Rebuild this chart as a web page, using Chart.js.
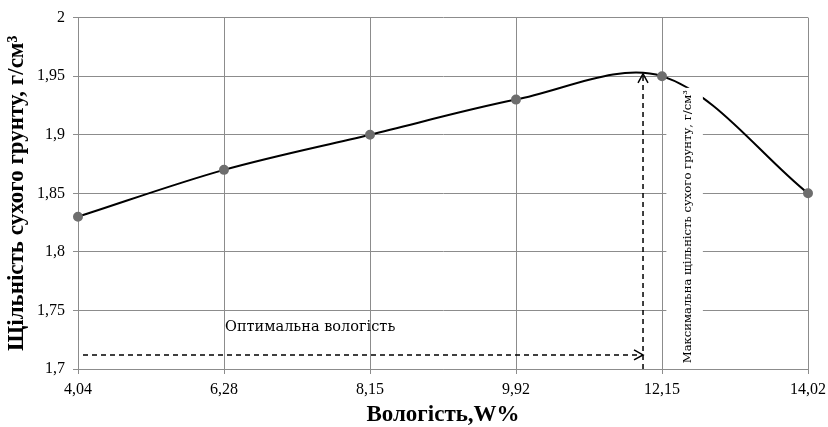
<!DOCTYPE html>
<html>
<head>
<meta charset="utf-8">
<script src="https://cdn.jsdelivr.net/npm/chart.js@4"></script>
<style>
  html, body { margin: 0; padding: 0; background: #fff; }
  #wrap { width: 828px; height: 427px; }
</style>
</head>
<body>
<div id="wrap"><canvas id="chart"></canvas></div>
<script>
const moistureLabels = ['4,04', '6,28', '8,15', '9,92', '12,15', '14,02']
const densityValues = [1.83, 1.87, 1.9, 1.93, 1.95, 1.85]

// optimum (fractional category index, density)
const optimumIndex = 3.87
const optimumDensity = 1.952
const arrowLevel = 1.712

const gridColor = '#8c8c8c'
const serif = '"Liberation Serif", "Times New Roman", serif'

const annotations = {
  id: 'annotations',
  afterDatasetsDraw(chart) {
    const { ctx, scales } = chart
    const x = scales.x
    const y = scales.y
    const ox = x.getPixelForValue(optimumIndex)
    const top = y.getPixelForValue(optimumDensity)
    const lvl = y.getPixelForValue(arrowLevel)

    ctx.save()
    // white box behind the vertical label
    const bx1 = x.getPixelForValue(4.03)
    const bx2 = x.getPixelForValue(4.28)
    const by1 = y.getPixelForValue(1.94)
    const by2 = y.getPixelForValue(1.703)
    ctx.fillStyle = '#fff'
    ctx.fillRect(bx1, by1, bx2 - bx1, by2 - by1)

    ctx.strokeStyle = '#000'
    ctx.lineWidth = 1.5
    ctx.setLineDash([5, 4])
    ctx.beginPath()
    ctx.moveTo(ox, y.bottom)
    ctx.lineTo(ox, top)
    ctx.moveTo(x.left + 5, lvl)
    ctx.lineTo(ox, lvl)
    ctx.stroke()

    ctx.setLineDash([])
    ctx.beginPath()
    ctx.moveTo(ox - 5, top + 9)
    ctx.lineTo(ox, top)
    ctx.lineTo(ox + 5, top + 9)
    ctx.moveTo(ox - 9, lvl - 5)
    ctx.lineTo(ox, lvl)
    ctx.lineTo(ox - 9, lvl + 5)
    ctx.stroke()

    ctx.fillStyle = '#000'
    ctx.font = '14.5px "DejaVu Serif", serif'
    ctx.textAlign = 'center'
    ctx.textBaseline = 'middle'
    ctx.fillText('Оптимальна вологість', x.getPixelForValue(1.59), y.getPixelForValue(1.7357))

    ctx.translate(x.getPixelForValue(4.18), (by1 + by2) / 2)
    ctx.rotate(-Math.PI / 2)
    ctx.font = '11.6px "DejaVu Serif", serif'
    ctx.fillText('Максимальна щільність сухого грунту, г/см³', 0, 0)
    ctx.restore()
  },
}

new Chart(document.getElementById('chart'), {
  type: 'line',
  data: {
    labels: moistureLabels,
    datasets: [
      {
        data: densityValues,
        borderColor: '#000',
        borderWidth: 2,
        tension: 0.33,
        pointRadius: 4,
        pointBackgroundColor: '#6e6e6e',
        pointBorderColor: '#6e6e6e',
      },
    ],
  },
  options: {
    responsive: true,
    maintainAspectRatio: false,
    animation: false,
    layout: { padding: { top: 16, right: 20, left: 0, bottom: 0 } },
    plugins: {
      legend: { display: false },
      tooltip: { enabled: false },
    },
    scales: {
      x: {
        offset: false,
        afterFit: (s) => {
          s.height = 58
          s.paddingLeft = 0
          s.paddingRight = 0
        },
        grid: { color: gridColor, tickLength: 5 },
        border: { color: gridColor },
        ticks: { color: '#000', font: { family: serif, size: 16 }, padding: 6, maxRotation: 0 },
        title: {
          display: true,
          text: 'Вологість,W%',
          color: '#000',
          font: { family: serif, size: 23, weight: 'bold', lineHeight: 1 },
          padding: { top: 0, bottom: 0 },
        },
      },
      y: {
        min: 1.7,
        max: 2,
        afterFit: (s) => { s.width = 78 },
        grid: { color: gridColor, tickLength: 5 },
        border: { color: gridColor },
        ticks: {
          stepSize: 0.05,
          color: '#000',
          font: { family: serif, size: 16 },
          padding: 8,
          callback: (v) => String(Math.round(v * 100) / 100).replace('.', ','),
        },
        title: {
          display: true,
          text: 'Щільність сухого грунту, г/см³',
          color: '#000',
          font: { family: serif, size: 23, weight: 'bold', lineHeight: 1 },
          padding: { top: 6, bottom: 0 },
        },
      },
    },
  },
  plugins: [annotations],
})
</script>
</body>
</html>
